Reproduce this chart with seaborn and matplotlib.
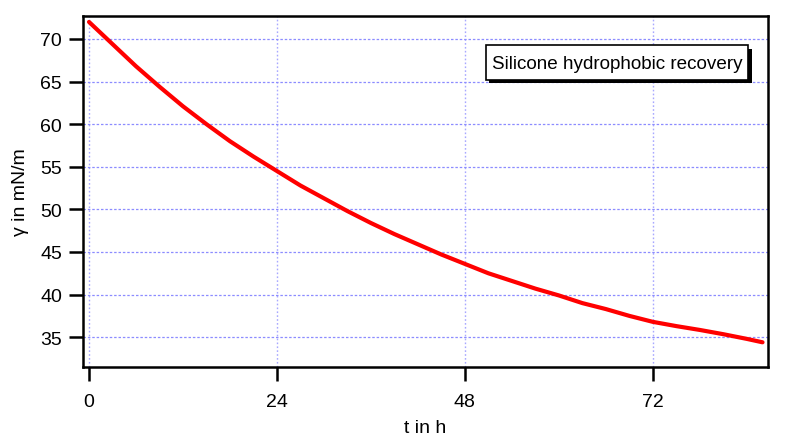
import numpy as np
import pandas as pd
import matplotlib
matplotlib.use('Agg')
import matplotlib.pyplot as plt
import matplotlib.patheffects as pe
from matplotlib.patches import Rectangle
import seaborn as sns

# values
t_hours = [0, 3, 6, 9, 12, 15, 18, 21, 24, 27, 30, 33, 36, 39, 42, 45,
           48, 51, 54, 57, 60, 63, 66, 69, 72, 75, 78, 81, 84, 86]
gamma = [72.0, 69.4, 66.8, 64.4, 62.1, 60.0, 58.0, 56.2, 54.5, 52.8,
         51.3, 49.8, 48.4, 47.1, 45.9, 44.7, 43.6, 42.5, 41.6, 40.7,
         39.9, 39.0, 38.3, 37.5, 36.8, 36.3, 35.85, 35.35, 34.8, 34.4]
x_ticks = [0, 24, 48, 72]
y_ticks = [35, 40, 45, 50, 55, 60, 65, 70]
box_text = 'Silicone hydrophobic recovery'

df = pd.DataFrame({'t': t_hours, 'gamma': gamma})

sns.set_theme(style='white')
plt.rcParams['font.family'] = ['Liberation Sans', 'DejaVu Sans']

fig = plt.figure(figsize=(8.08, 4.39), dpi=100)
ax = fig.add_axes([0.1027, 0.1617, 0.8478, 0.7996])

# grid
for xv in x_ticks:
    ax.axvline(xv, color='#a8a8ff', linestyle=(0, (1.2, 1.6)), linewidth=1.0, zorder=0)
for yv in y_ticks:
    ax.axhline(yv, color='#8c8cff', linestyle=(0, (2, 1.5)), linewidth=0.9, zorder=0)

sns.lineplot(data=df, x='t', y='gamma', color='red', linewidth=3, ax=ax, zorder=3)

ax.set_xlim(-0.77, 86.7)
ax.set_ylim(31.5, 72.7)
ax.set_xticks(x_ticks)
ax.set_yticks(y_ticks)
ax.tick_params(axis='both', direction='out', length=10, width=1.8, color='black',
               labelsize=14, labelcolor='black', bottom=True, left=True)
ax.tick_params(axis='x', pad=9)
ax.tick_params(axis='y', pad=5)
for sp in ax.spines.values():
    sp.set_visible(True)
    sp.set_color('black')
    sp.set_linewidth(1.8)

ax.set_xlabel('t in h', fontsize=14, color='black', labelpad=6)
ax.set_ylabel('γ in mN/m', fontsize=14, color='black', labelpad=8)

# annotation box with drop shadow
box = Rectangle((0.588, 0.818), 0.383, 0.099, transform=ax.transAxes,
                facecolor='white', edgecolor='black', linewidth=1.2, zorder=5)
box.set_path_effects([pe.withSimplePatchShadow(offset=(2.5, -2.5),
                                               shadow_rgbFace='black', alpha=1.0)])
ax.add_patch(box)
ax.text(0.7795, 0.866, box_text, transform=ax.transAxes, ha='center', va='center',
        fontsize=13.6, color='black', zorder=6)

fig.savefig('out.png', dpi=100)
